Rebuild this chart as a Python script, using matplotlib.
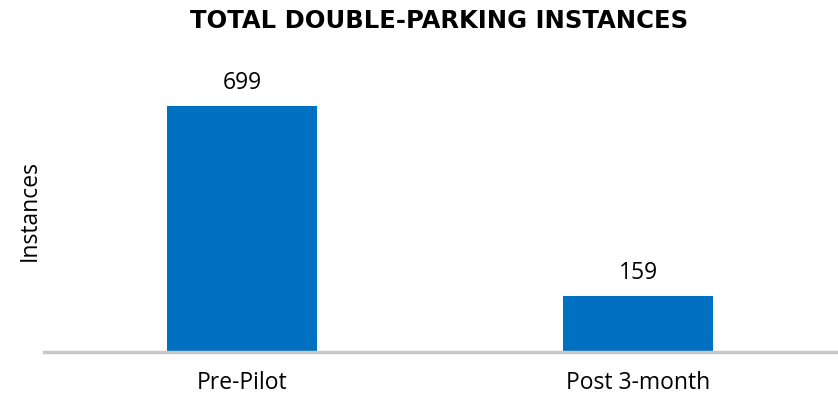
import matplotlib
matplotlib.use("Agg")
from matplotlib import pyplot as plt

plt.rcParams['font.family'] = ['Open Sans', 'DejaVu Sans']

categories = ['Pre-Pilot', 'Post 3-month']
instances = [699, 159]

fig = plt.figure(figsize=(8.38, 3.95), dpi=100)
ax = fig.add_axes([0.0525, 0.109, 0.9475, 0.714])

bars = ax.bar(range(len(categories)), instances, width=0.38, color='#0070C0')
for b, v in zip(bars, instances):
    ax.text(b.get_x() + b.get_width() / 2, v + 30, str(v),
            ha='center', va='bottom', fontsize=16.5)

ax.set_xlim(-0.5, 1.505)
ax.set_ylim(0, 800)
ax.set_xticks(range(len(categories)))
ax.set_xticklabels(categories, fontsize=16.5)
ax.tick_params(axis='x', length=0, pad=14)
ax.set_yticks([])
ax.set_ylabel('Instances', fontsize=16.5, labelpad=1.7)

for s in ['top', 'right', 'left']:
    ax.spines[s].set_visible(False)
ax.spines['bottom'].set_color('#c8c8c8')
ax.spines['bottom'].set_linewidth(2.5)

fig.text(0.524, 0.948, 'TOTAL DOUBLE-PARKING INSTANCES', ha='center', va='center',
         fontsize=17.5, fontweight='bold', family='DejaVu Sans')

fig.savefig('out.png', dpi=100)
